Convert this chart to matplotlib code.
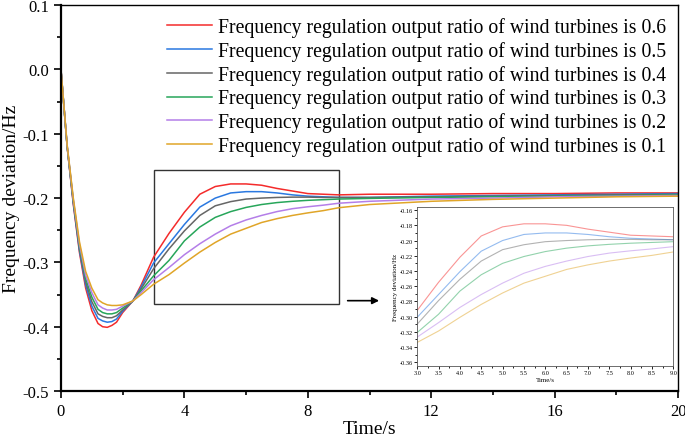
import matplotlib
matplotlib.use("Agg")
import matplotlib.pyplot as plt
from matplotlib.patches import Rectangle
from matplotlib.ticker import MultipleLocator

# time axis shared by all series (s)
time_s = [0, 0.2, 0.4, 0.6, 0.8, 1.0, 1.2, 1.35, 1.5, 1.65, 1.8, 2.0, 2.33, 2.6, 3.0, 3.5, 4.0,
          4.5, 5.0, 5.5, 6.0, 6.5, 7.0, 7.5, 8.0, 8.5, 9.0, 10, 12, 14, 16, 18, 20]

# frequency deviation (Hz) for each wind turbine output ratio
ratio_06 = [0, -0.12, -0.21, -0.285, -0.34, -0.375, -0.395, -0.4, -0.401, -0.398, -0.393, -0.378,
            -0.36, -0.335, -0.292, -0.255, -0.222, -0.194, -0.182, -0.178, -0.178, -0.180, -0.185,
            -0.189, -0.193, -0.194, -0.195, -0.194, -0.194, -0.193, -0.193, -0.192, -0.192]
ratio_05 = [0, -0.12, -0.208, -0.282, -0.335, -0.368, -0.387, -0.391, -0.393, -0.392, -0.388, -0.376,
            -0.36, -0.338, -0.301, -0.271, -0.241, -0.214, -0.200, -0.192, -0.190, -0.190, -0.192,
            -0.195, -0.197, -0.198, -0.199, -0.199, -0.197, -0.196, -0.195, -0.194, -0.193]
ratio_04 = [0, -0.12, -0.206, -0.279, -0.33, -0.361, -0.38, -0.384, -0.386, -0.386, -0.383, -0.374,
            -0.36, -0.341, -0.31, -0.279, -0.251, -0.227, -0.212, -0.2055, -0.2015, -0.2, -0.199,
            -0.1985, -0.1985, -0.199, -0.199, -0.199, -0.198, -0.197, -0.196, -0.195, -0.194]
ratio_03 = [0, -0.119, -0.204, -0.276, -0.325, -0.354, -0.373, -0.378, -0.380, -0.380, -0.378, -0.371,
            -0.36, -0.344, -0.321, -0.297, -0.2665, -0.245, -0.230, -0.221, -0.2145, -0.210, -0.207,
            -0.205, -0.2035, -0.2025, -0.2015, -0.2005, -0.199, -0.198, -0.197, -0.196, -0.195]
ratio_02 = [0, -0.118, -0.202, -0.272, -0.32, -0.347, -0.366, -0.371, -0.374, -0.374, -0.373, -0.368,
            -0.36, -0.347, -0.327, -0.308, -0.288, -0.271, -0.256, -0.243, -0.234, -0.227, -0.221,
            -0.2165, -0.2135, -0.211, -0.208, -0.205, -0.2015, -0.2, -0.198, -0.197, -0.196]
ratio_01 = [0, -0.117, -0.2, -0.268, -0.314, -0.34, -0.358, -0.363, -0.366, -0.367, -0.367, -0.366,
            -0.36, -0.35, -0.334, -0.319, -0.301, -0.284, -0.269, -0.256, -0.247, -0.238, -0.232,
            -0.227, -0.223, -0.2195, -0.215, -0.21, -0.205, -0.202, -0.2, -0.198, -0.197]

series = [ratio_06, ratio_05, ratio_04, ratio_03, ratio_02, ratio_01]
ratio_labels = ["0.6", "0.5", "0.4", "0.3", "0.2", "0.1"]
colors = ["#f42b2b", "#2a78e0", "#666666", "#27a65a", "#b47ee8", "#e0a528"]

plt.rcParams["font.family"] = ["Liberation Serif", "DejaVu Serif"]

fig = plt.figure(figsize=(6.85, 4.39), dpi=100)
ax = fig.add_axes([0.089, 0.107, 0.901, 0.879])

for values, label, color in zip(series, ratio_labels, colors):
    ax.plot(time_s, values, color=color, lw=1.1,
            label=f"Frequency regulation output ratio of wind turbines is {label}")

ax.set_xlim(0, 20)
ax.set_ylim(-0.5, 0.1)
ax.xaxis.set_major_locator(MultipleLocator(4))
ax.xaxis.set_minor_locator(MultipleLocator(2))
ax.yaxis.set_major_locator(MultipleLocator(0.1))
ax.yaxis.set_minor_locator(MultipleLocator(0.05))
ax.set_yticklabels([f"{v:.1f}" for v in ax.get_yticks()])
ax.tick_params(which="major", direction="out", length=5, width=1.2, labelsize=12)
ax.tick_params(which="minor", direction="out", length=3, width=1.2)
ax.tick_params(top=False, right=False)
for side in ["left", "bottom"]:
    ax.spines[side].set_linewidth(1.6)
for side in ["top", "right"]:
    ax.spines[side].set_linewidth(1.0)
ax.set_xlabel("Time/s", fontsize=14, labelpad=1)
ax.set_ylabel("Frequency deviation/Hz", fontsize=14, labelpad=2)

ax.legend(loc="upper right", frameon=False, fontsize=14.2, handlelength=2.3,
          handletextpad=0.3, labelspacing=0.2, borderaxespad=0.2,
          bbox_to_anchor=(1.0, 1.0))

# zoom box and arrow
ax.add_patch(Rectangle((3, -0.365), 6, 0.208, fill=False, edgecolor="#333333", lw=1.0))
ax.annotate("", xy=(10.4, -0.3595), xytext=(9.2, -0.3595),
            arrowprops=dict(arrowstyle="-|>", color="black", lw=1.2, mutation_scale=10))

# inset
ins = fig.add_axes([0.609, 0.164, 0.374, 0.362])
for values, color in zip(series, colors):
    ins.plot(time_s, values, color=color, lw=0.8, alpha=0.5)
ins.set_xlim(3, 9)
ins.set_ylim(-0.365, -0.156)
ins.xaxis.set_major_locator(MultipleLocator(0.5))
ins.yaxis.set_major_locator(MultipleLocator(0.02))
ins.yaxis.set_minor_locator(MultipleLocator(0.01))
ins.xaxis.set_minor_locator(MultipleLocator(0.25))
ins.set_xticklabels([f"{v:.1f}" for v in ins.get_xticks()])
ins.set_yticklabels([f"{v:.2f}" for v in ins.get_yticks()])
ins.tick_params(which="major", direction="out", length=2, width=0.6, labelsize=4.5, pad=1)
ins.tick_params(which="minor", direction="out", length=1.2, width=0.6)
for side in ins.spines.values():
    side.set_linewidth(0.6)
    side.set_edgecolor("#555555")
ins.set_xlabel("Time/s", fontsize=5, labelpad=1)
ins.set_ylabel("Frequency deviation/Hz", fontsize=5, labelpad=1)

fig.savefig("out.png", dpi=100)
